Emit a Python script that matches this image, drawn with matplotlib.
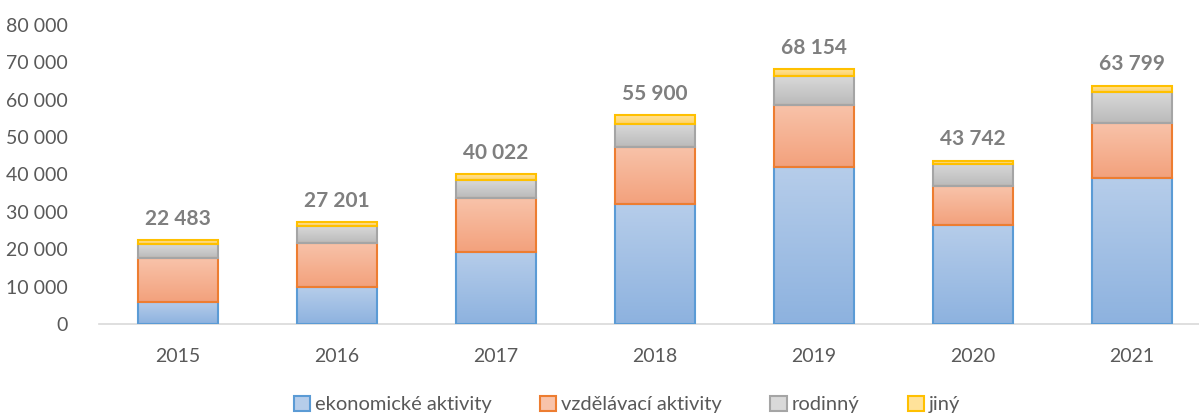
import numpy as np
import matplotlib.pyplot as plt
from matplotlib.patches import Rectangle
from matplotlib.colors import LinearSegmentedColormap

plt.rcParams['font.family'] = ['Lato', 'DejaVu Sans']

# data
years = ['2015', '2016', '2017', '2018', '2019', '2020', '2021']
ekonomicke = [6000, 9800, 19300, 32000, 42000, 26500, 39000]
vzdelavaci = [11600, 11900, 14400, 15400, 16700, 10400, 14900]
rodinny = [3700, 4500, 4800, 6100, 7600, 5900, 8100]
jiny = [1183, 1001, 1522, 2400, 1854, 942, 1799]

series = [
    ('ekonomické aktivity', ekonomicke, '#b6cdea', '#8db2df', '#5b9bd5'),
    ('vzdělávací aktivity', vzdelavaci, '#f8c3aa', '#f3a17c', '#ed7d31'),
    ('rodinný', rodinny, '#d9d9d9', '#bababa', '#a5a5a5'),
    ('jiný', jiny, '#ffe29a', '#ffd466', '#ffc000'),
]

fig = plt.figure(figsize=(11.99, 4.19), dpi=100)
# plot area runs a little past the right edge, like the cropped original
ax = fig.add_axes([98.5 / 1199, 1 - 324 / 419, 1113 / 1199, 299 / 419])

x = np.arange(len(years))
width = 0.505
bottom = np.zeros(len(years))
grad = np.linspace(0, 1, 256).reshape(-1, 1)

handles = []
for name, vals, c_top, c_bot, edge in series:
    vals = np.array(vals, dtype=float)
    cmap = LinearSegmentedColormap.from_list(name, [c_bot, c_top])
    bars = ax.bar(x, vals, width, bottom=bottom, color='none',
                  edgecolor=edge, linewidth=1.5, zorder=3)
    # gradient fill, lighter at the top
    for b in bars:
        x0, y0 = b.get_x(), b.get_y()
        im = ax.imshow(grad, cmap=cmap, aspect='auto', origin='lower',
                       extent=(x0, x0 + b.get_width(), y0, y0 + b.get_height()),
                       zorder=2)
        im.set_clip_path(b)
    bottom += vals
    handles.append(Rectangle((0, 0), 1, 1, facecolor=c_top, edgecolor=edge, linewidth=1.5))

for xi, tot in zip(x, bottom):
    ax.annotate(f'{int(tot):,}'.replace(',', ' '), (xi, tot), xytext=(0, 8),
                textcoords='offset points', ha='center', va='bottom',
                fontsize=15, fontweight='bold', color='#7f7f7f')

ax.set_xlim(-0.5, len(years) - 0.5)
ax.set_ylim(0, 80000)
ax.set_yticks(np.arange(0, 80001, 10000))
ax.set_yticklabels([f'{v:,}'.replace(',', ' ') for v in range(0, 80001, 10000)])
ax.set_xticks(x)
ax.set_xticklabels(years)
ax.tick_params(axis='both', length=0, labelsize=14, colors='#595959')
ax.tick_params(axis='x', pad=17)
ax.tick_params(axis='y', pad=22)

for s in ['top', 'right', 'left']:
    ax.spines[s].set_visible(False)
ax.spines['bottom'].set_color('#d9d9d9')
ax.spines['bottom'].set_linewidth(1.2)

fig.legend(handles, [s[0] for s in series], loc='lower center', ncol=4,
           frameon=False, fontsize=14.5, labelcolor='#595959',
           bbox_to_anchor=(0.523, -0.03), handlelength=0.8, handleheight=0.8,
           handletextpad=0.25, columnspacing=2.4)

fig.savefig('out.png', dpi=100)
